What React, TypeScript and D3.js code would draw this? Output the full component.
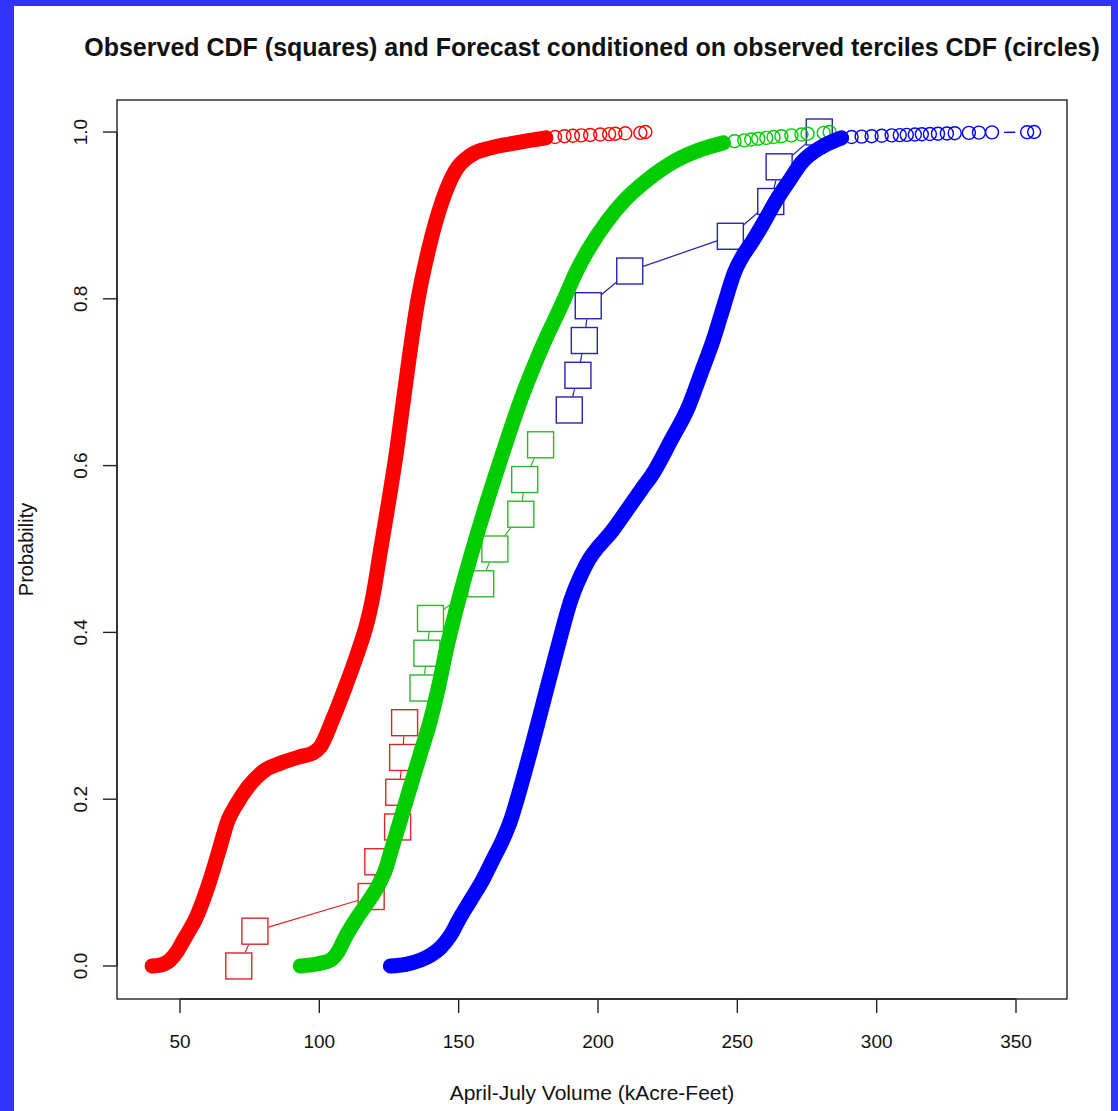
import React from 'react';
import * as d3 from 'd3';

const WIDTH = 1118;
const HEIGHT = 1111;

const titleText = 'Observed CDF (squares) and Forecast conditioned on observed terciles CDF (circles)';
const xLabel = 'April-July Volume (kAcre-Feet)';
const yLabel = 'Probability';

const xTicks = [50, 100, 150, 200, 250, 300, 350];
const yTicks = [0, 0.2, 0.4, 0.6, 0.8, 1.0];
const yTickLabels = ['0.0', '0.2', '0.4', '0.6', '0.8', '1.0'];

// Forecast CDF, lower tercile (red): dense body of the ensemble
const redForecastVolume = [40.0, 42.8, 46.4, 48.9, 51.3, 53.4, 55.4, 60.0, 63.7, 67.3, 70.5, 74.5, 80.6, 86.0, 93.2, 97.5, 100.4, 104.7, 109.4, 113.7, 117.4, 119.0, 122.0, 125.0, 127.8, 130.2, 135.4, 139.2, 144.2, 148.9, 154.3, 161.5, 170.5, 181.3];
const redForecastProb = [0, 0.001, 0.007, 0.017, 0.031, 0.043, 0.055, 0.095, 0.135, 0.175, 0.195, 0.215, 0.235, 0.243, 0.251, 0.255, 0.263, 0.295, 0.335, 0.375, 0.415, 0.439, 0.499, 0.559, 0.619, 0.679, 0.799, 0.859, 0.918, 0.954, 0.972, 0.981, 0.987, 0.993];
// upper tail members
const redTailVolume = [184.6, 188.0, 191.0, 194.0, 197.2, 200.8, 204.0, 206.2, 209.8, 215.2, 217.0];
const redTailProb = [0.994, 0.995, 0.9955, 0.996, 0.9965, 0.997, 0.9975, 0.998, 0.9985, 0.999, 1.0];

// Forecast CDF, middle tercile (green)
const greenForecastVolume = [93.2, 100.0, 104.0, 106.5, 109.4, 113.0, 117.3, 120.9, 123.7, 125.5, 129.1, 132.7, 136.3, 139.9, 142.8, 145.3, 150.0, 155.0, 160.4, 166.2, 172.3, 179.5, 187.8, 192.0, 196.5, 203.5, 209.5, 217.5, 228.0, 236.0, 245.0];
const greenForecastProb = [0, 0.003, 0.007, 0.016, 0.035, 0.055, 0.076, 0.095, 0.115, 0.135, 0.175, 0.215, 0.255, 0.295, 0.335, 0.375, 0.439, 0.499, 0.559, 0.619, 0.679, 0.739, 0.799, 0.831, 0.859, 0.894, 0.918, 0.942, 0.966, 0.978, 0.987];
const greenTailVolume = [249.0, 252.5, 255.0, 257.5, 260.4, 263.0, 265.8, 269.4, 273.0, 275.2, 281.0, 283.1];
const greenTailProb = [0.989, 0.990, 0.991, 0.992, 0.993, 0.994, 0.995, 0.996, 0.997, 0.998, 0.999, 1.0];

// Forecast CDF, upper tercile (blue)
const blueForecastVolume = [125.5, 131.0, 136.3, 140.0, 143.5, 147.1, 150.0, 154.3, 158.6, 162.2, 165.8, 168.7, 170.9, 175.9, 180.6, 185.3, 190.3, 195.7, 205.4, 215.5, 219.8, 226.3, 232.4, 237.0, 241.4, 245.0, 248.9, 255.8, 257.9, 264.7, 268.7, 273.0, 280.2, 287.4];
const blueForecastProb = [0, 0.002, 0.007, 0.013, 0.022, 0.037, 0.055, 0.079, 0.103, 0.127, 0.151, 0.175, 0.199, 0.259, 0.319, 0.379, 0.439, 0.481, 0.523, 0.571, 0.591, 0.631, 0.670, 0.711, 0.751, 0.790, 0.831, 0.871, 0.8825, 0.922, 0.942, 0.963, 0.982, 0.993];
const blueTailVolume = [291.0, 294.6, 298.2, 301.8, 305.4, 308.3, 310.8, 313.7, 316.2, 319.1, 322.0, 325.2, 328.0, 333.1, 336.7, 341.4, 354.0, 356.5];
const blueTailProb = [0.994, 0.9945, 0.995, 0.9955, 0.996, 0.9963, 0.9966, 0.997, 0.9973, 0.9976, 0.998, 0.9983, 0.9986, 0.999, 0.9993, 0.9996, 0.9998, 1.0];

// Observed CDF (squares), split by tercile
const observedRedVolume = [71.1, 76.9, 118.6, 121.0, 128.1, 128.5, 129.9, 130.6];
const observedRedProb = [0, 0.0417, 0.0833, 0.125, 0.1667, 0.2083, 0.25, 0.2917];
const observedGreenVolume = [137.2, 138.6, 139.9, 157.9, 163.0, 172.3, 173.7, 179.4];
const observedGreenProb = [0.3333, 0.375, 0.4167, 0.4583, 0.5, 0.5417, 0.5833, 0.625];
const observedBlueVolume = [189.7, 192.8, 195.1, 196.5, 211.4, 247.5, 262.0, 265.0, 279.4];
const observedBlueProb = [0.6667, 0.7083, 0.75, 0.7917, 0.8333, 0.875, 0.9167, 0.9583, 1.0];

const FONT = "'Liberation Sans', Arial, Helvetica, sans-serif";

type Pt = [number, number];

const zip = (a: number[], b: number[]): [number, number][] => a.map((v, i) => [v, b[i]]);

// Segments between consecutive points, leaving a gap around each marker
function gappedSegments(pts: Pt[], gapFor: (ux: number, uy: number) => number) {
  const segs: { x1: number; y1: number; x2: number; y2: number }[] = [];
  for (let i = 1; i < pts.length; i++) {
    const [ax, ay] = pts[i - 1];
    const [bx, by] = pts[i];
    const dx = bx - ax;
    const dy = by - ay;
    const len = Math.hypot(dx, dy);
    if (len === 0) continue;
    const ux = dx / len;
    const uy = dy / len;
    const g = gapFor(ux, uy);
    if (len <= 2 * g) continue;
    segs.push({ x1: ax + ux * g, y1: ay + uy * g, x2: bx - ux * g, y2: by - uy * g });
  }
  return segs;
}

export default function App() {
  const left = 117;
  const right = 1067;
  const top = 100;
  const bottom = 999;

  const x = d3.scaleLinear().domain([27.4, 368.3]).range([left, right]);
  const y = d3.scaleLinear().domain([-0.0396, 1.0384]).range([bottom, top]);

  const line = d3
    .line<[number, number]>()
    .x((d) => x(d[0]))
    .y((d) => y(d[1]))
    .curve(d3.curveMonotoneX);

  const forecasts = [
    { color: '#ff0000', body: zip(redForecastVolume, redForecastProb), tail: zip(redTailVolume, redTailProb) },
    { color: '#00cc00', body: zip(greenForecastVolume, greenForecastProb), tail: zip(greenTailVolume, greenTailProb) },
    { color: '#0000ff', body: zip(blueForecastVolume, blueForecastProb), tail: zip(blueTailVolume, blueTailProb) },
  ];

  const observed = [
    { color: '#d42a2a', pts: zip(observedRedVolume, observedRedProb) },
    { color: '#2fb52f', pts: zip(observedGreenVolume, observedGreenProb) },
    { color: '#2424b0', pts: zip(observedBlueVolume, observedBlueProb) },
  ];

  const SQ = 26;
  const CR = 6.5;
  const midX = (left + right) / 2;
  const midY = (top + bottom) / 2;

  return (
    <svg
      width={WIDTH}
      height={HEIGHT}
      viewBox={`0 0 ${WIDTH} ${HEIGHT}`}
      style={{ position: 'absolute', left: 0, top: 0, display: 'block' }}
      fontFamily={FONT}
    >
      <rect x={0} y={0} width={WIDTH} height={HEIGHT} fill="#3333ff" />
      <rect x={14} y={6} width={1097} height={HEIGHT - 6} fill="#ffffff" />

      <text x={midX} y={56} textAnchor="middle" fontSize={25} fontWeight="bold" fill="#111">
        {titleText}
      </text>

      {/* observed CDF: squares joined by thin lines */}
      {observed.map((s, si) => {
        const px: Pt[] = s.pts.map((d) => [x(d[0]), y(d[1])]);
        const segs = gappedSegments(px, (ux, uy) => SQ / 2 / Math.max(Math.abs(ux), Math.abs(uy)) + 0.5);
        return (
          <g key={`obs-${si}`} stroke={s.color} fill="none" strokeWidth={1.4}>
            {segs.map((g, i) => (
              <line key={i} x1={g.x1} y1={g.y1} x2={g.x2} y2={g.y2} strokeWidth={1.2} />
            ))}
            {px.map((p, i) => (
              <rect key={i} x={p[0] - SQ / 2} y={p[1] - SQ / 2} width={SQ} height={SQ} />
            ))}
          </g>
        );
      })}

      {/* forecast CDFs: dense ensemble body and sparse upper tail */}
      {forecasts.map((f, fi) => {
        const tailPx: Pt[] = f.tail.map((d) => [x(d[0]), y(d[1])]);
        const segs = gappedSegments(tailPx, () => 12);
        return (
          <g key={`fc-${fi}`} stroke={f.color} fill="none">
            <path
              d={line(f.body) || ''}
              strokeWidth={15}
              strokeLinecap="round"
              strokeLinejoin="round"
            />
            {f.body.map((d, i) => (
              <circle key={`b${i}`} cx={x(d[0])} cy={y(d[1])} r={CR} strokeWidth={1.4} />
            ))}
            {segs.map((g, i) => (
              <line key={`s${i}`} x1={g.x1} y1={g.y1} x2={g.x2} y2={g.y2} strokeWidth={1.3} />
            ))}
            {tailPx.map((p, i) => (
              <circle key={`t${i}`} cx={p[0]} cy={p[1]} r={CR} strokeWidth={1.4} />
            ))}
          </g>
        );
      })}

      {/* plot frame */}
      <rect x={left} y={top} width={right - left} height={bottom - top} fill="none" stroke="#222" strokeWidth={1.4} />

      {/* x axis */}
      <g stroke="#222" strokeWidth={1.4}>
        <line x1={x(xTicks[0])} x2={x(xTicks[xTicks.length - 1])} y1={bottom} y2={bottom} />
        {xTicks.map((t) => (
          <line key={t} x1={x(t)} x2={x(t)} y1={bottom} y2={bottom + 14} />
        ))}
      </g>
      {xTicks.map((t) => (
        <text key={t} x={x(t)} y={1048} textAnchor="middle" fontSize={19} fill="#111">
          {t}
        </text>
      ))}

      {/* y axis */}
      <g stroke="#222" strokeWidth={1.4}>
        <line x1={left} x2={left} y1={y(yTicks[0])} y2={y(yTicks[yTicks.length - 1])} />
        {yTicks.map((t) => (
          <line key={t} x1={left - 14} x2={left} y1={y(t)} y2={y(t)} />
        ))}
      </g>
      {yTicks.map((t, i) => (
        <text
          key={t}
          transform={`translate(87, ${y(t)}) rotate(-90)`}
          textAnchor="middle"
          fontSize={19}
          fill="#111"
        >
          {yTickLabels[i]}
        </text>
      ))}

      <text x={midX} y={1100} textAnchor="middle" fontSize={21} fill="#111">
        {xLabel}
      </text>
      <text transform={`translate(33, ${midY}) rotate(-90)`} textAnchor="middle" fontSize={20} fill="#111">
        {yLabel}
      </text>
    </svg>
  );
}
